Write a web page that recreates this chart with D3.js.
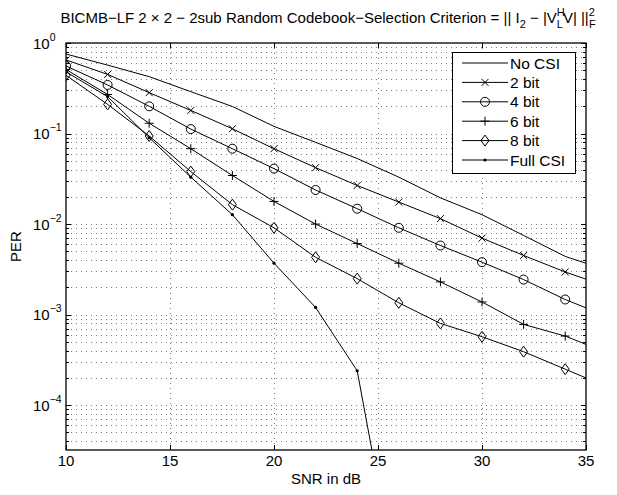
<!DOCTYPE html>
<html>
<head>
<meta charset="utf-8">
<script src="https://cdn.jsdelivr.net/npm/d3@7"></script>
<style>
body { margin: 0; background: #fff; }
svg { font-family: "Liberation Sans", Arial, sans-serif; }
</style>
</head>
<body>
<svg width="617" height="495"></svg>
<script>
// SNR points (dB); last point lies past the axis limit and gets clipped
const snr = [10, 12, 14, 16, 18, 20, 22, 24, 26, 28, 30, 32, 34, 36];

const noCsi  = [0.756, 0.57, 0.425, 0.29, 0.199, 0.12, 0.08, 0.053, 0.033, 0.0195, 0.0127, 0.0075, 0.0044, 0.0031];
const bit2   = [0.65, 0.45, 0.283, 0.18, 0.113, 0.068, 0.042, 0.0267, 0.0175, 0.0115, 0.0070, 0.0045, 0.00296, 0.00205];
const bit4   = [0.557, 0.344, 0.2, 0.112, 0.068, 0.041, 0.0238, 0.0148, 0.0091, 0.0058, 0.0038, 0.00244, 0.00147, 0.00096];
const bit6   = [0.51, 0.27, 0.13, 0.068, 0.0344, 0.0178, 0.0100, 0.0061, 0.0037, 0.0023, 0.00138, 0.00078, 0.00058, 0.00038];
const bit8   = [0.44, 0.21, 0.094, 0.038, 0.0164, 0.0091, 0.0043, 0.0025, 0.00135, 0.00080, 0.00057, 0.00039, 0.00025, 0.00016];
const fullCsi = [0.48, 0.256, 0.09, 0.033, 0.0127, 0.0037, 0.0012, 0.00024, 0.0000008];

const seriesNames = ["No CSI", "2 bit", "4 bit", "6 bit", "8 bit", "Full CSI"];
const seriesMarkers = ["none", "x", "o", "+", "d", "."];
const seriesValues = [noCsi, bit2, bit4, bit6, bit8, fullCsi];

const xTicks = [10, 15, 20, 25, 30, 35];
const yExponents = [0, -1, -2, -3, -4];

const svg = d3.select("svg");
const pLeft = 66, pRight = 586, pTop = 43, pBottom = 450;

const x = d3.scaleLinear().domain([10, 35]).range([pLeft, pRight]);
const y = d3.scaleLog().domain([3.2e-5, 1]).range([pBottom, pTop]);

// clip region for the data
svg.append("clipPath").attr("id", "plotClip")
    .append("rect")
    .attr("x", pLeft).attr("y", pTop)
    .attr("width", pRight - pLeft).attr("height", pBottom - pTop);

// grid: major x, major + minor y (dotted)
const grid = svg.append("g")
    .attr("stroke", "#000")
    .attr("stroke-width", 1)
    .attr("stroke-dasharray", "1,4")
    .attr("opacity", 0.5);

grid.selectAll("line.gx")
    .data(xTicks.slice(1, -1))
    .enter().append("line")
    .attr("x1", d => Math.round(x(d)) + 0.5).attr("x2", d => Math.round(x(d)) + 0.5)
    .attr("y1", pTop).attr("y2", pBottom);

const yGridVals = [];
for (let e = -5; e < 0; e++) {
    for (let m = 1; m < 10; m++) {
        const v = m * Math.pow(10, e);
        if (v > y.domain()[0] && v < 1) yGridVals.push(v);
    }
}

grid.selectAll("line.gy")
    .data(yGridVals)
    .enter().append("line")
    .attr("x1", pLeft).attr("x2", pRight)
    .attr("y1", d => Math.round(y(d)) + 0.5).attr("y2", d => Math.round(y(d)) + 0.5);

// ticks (inward, on all sides)
const ticks = svg.append("g").attr("stroke", "#000").attr("stroke-width", 1);
xTicks.forEach(t => {
    const px = Math.round(x(t)) + 0.5;
    ticks.append("line").attr("x1", px).attr("x2", px).attr("y1", pBottom).attr("y2", pBottom - 5);
    ticks.append("line").attr("x1", px).attr("x2", px).attr("y1", pTop).attr("y2", pTop + 5);
});
yGridVals.concat([1]).forEach(v => {
    const py = Math.round(y(v)) + 0.5;
    const major = Math.abs(Math.log10(v) - Math.round(Math.log10(v))) < 1e-9;
    const len = major ? 5 : 3;
    ticks.append("line").attr("x1", pLeft).attr("x2", pLeft + len).attr("y1", py).attr("y2", py);
    ticks.append("line").attr("x1", pRight).attr("x2", pRight - len).attr("y1", py).attr("y2", py);
});

// series
const line = d3.line()
    .x((d, i) => x(snr[i]))
    .y(d => y(d));

const plot = svg.append("g").attr("clip-path", "url(#plotClip)");

function markerPath(type) {
    switch (type) {
        case "x": return "M-3.5,-3.5L3.5,3.5M-3.5,3.5L3.5,-3.5";
        case "+": return "M-4.5,0H4.5M0,-4.5V4.5";
        case "d": return "M0,-5.5L4,0L0,5.5L-4,0Z";
        case "o": return "M4.5,0A4.5,4.5 0 1,1 -4.5,0A4.5,4.5 0 1,1 4.5,0Z";
        default: return null;
    }
}

seriesValues.forEach((vals, k) => {
    plot.append("path")
        .datum(vals)
        .attr("fill", "none")
        .attr("stroke", "#000")
        .attr("stroke-width", 1)
        .attr("d", line);

    const m = seriesMarkers[k];
    if (m === "none") return;
    const g = plot.append("g");
    vals.forEach((v, i) => {
        const cx = x(snr[i]), cy = y(v);
        if (m === ".") {
            g.append("circle").attr("cx", cx).attr("cy", cy).attr("r", 1.6).attr("fill", "#000");
        } else {
            g.append("path")
                .attr("transform", `translate(${cx},${cy})`)
                .attr("d", markerPath(m))
                .attr("fill", "none")
                .attr("stroke", "#000")
                .attr("stroke-width", 1);
        }
    });
});

// axes box
svg.append("rect")
    .attr("x", pLeft).attr("y", pTop)
    .attr("width", pRight - pLeft).attr("height", pBottom - pTop)
    .attr("fill", "none")
    .attr("stroke", "#000")
    .attr("stroke-width", 1.3);

// tick labels
svg.append("g").selectAll("text")
    .data(xTicks)
    .enter().append("text")
    .attr("x", d => x(d))
    .attr("y", pBottom + 16)
    .attr("text-anchor", "middle")
    .attr("font-size", 15)
    .text(d => d);

const yLab = svg.append("g").selectAll("text")
    .data(yExponents)
    .enter().append("text")
    .attr("x", 33)
    .attr("y", d => y(Math.pow(10, d)) + 5.5)
    .attr("font-size", 15)
    .text("10");
yLab.append("tspan")
    .attr("dy", -8)
    .attr("font-size", 10.5)
    .text(d => d === 0 ? "0" : "\u2212" + Math.abs(d));

// axis labels
svg.append("text")
    .attr("x", (pLeft + pRight) / 2)
    .attr("y", pBottom + 34)
    .attr("text-anchor", "middle")
    .attr("font-size", 15)
    .text("SNR in dB");

svg.append("text")
    .attr("transform", `translate(21,${(pTop + pBottom) / 2}) rotate(-90)`)
    .attr("text-anchor", "middle")
    .attr("font-size", 15)
    .text("PER");

// title with sub/superscripts
const title = svg.append("text")
    .attr("x", (pLeft + pRight) / 2 + 2)
    .attr("y", 23)
    .attr("text-anchor", "middle")
    .attr("font-size", 15);
title.append("tspan").text("BICMB\u2212LF 2 \u00d7 2 \u2212 2sub Random Codebook\u2212Selection Criterion = || I");
title.append("tspan").attr("dy", 5).attr("font-size", 11).text("2");
title.append("tspan").attr("dy", -5).text(" \u2212 |V");
title.append("tspan").attr("dy", -7).attr("font-size", 11).text("H");
title.append("tspan").attr("dx", -8).attr("dy", 12).attr("font-size", 11).text("L");
title.append("tspan").attr("dy", -5).text("V| ||");
title.append("tspan").attr("dy", -7).attr("font-size", 11).text("2");
title.append("tspan").attr("dx", -6).attr("dy", 12).attr("font-size", 11).text("F");

// legend
const legX = 452, legY = 52, legW = 123, legH = 121;
svg.append("rect")
    .attr("x", legX + 0.5).attr("y", legY + 0.5)
    .attr("width", legW).attr("height", legH)
    .attr("fill", "#fff").attr("stroke", "#000").attr("stroke-width", 1);

const leg = svg.append("g").selectAll("g")
    .data(seriesNames)
    .enter().append("g")
    .attr("transform", (d, i) => `translate(${legX},${legY + 11 + i * 19.4})`);

leg.append("line")
    .attr("x1", 10).attr("x2", 56)
    .attr("stroke", "#000").attr("stroke-width", 1);

leg.each(function (d, i) {
    const m = seriesMarkers[i];
    const g = d3.select(this);
    if (m === ".") {
        g.append("circle").attr("cx", 33).attr("r", 1.6).attr("fill", "#000");
    } else if (m !== "none") {
        g.append("path")
            .attr("transform", "translate(33,0)")
            .attr("d", markerPath(m))
            .attr("fill", "none").attr("stroke", "#000");
    }
});

leg.append("text")
    .attr("x", 58)
    .attr("y", 5.5)
    .attr("font-size", 15.5)
    .text(d => d);
</script>
</body>
</html>
